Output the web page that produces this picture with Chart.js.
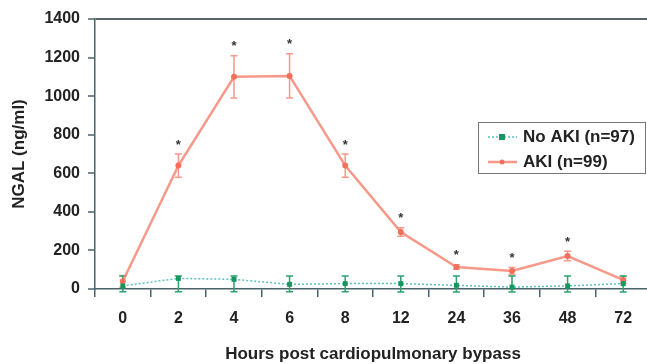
<!DOCTYPE html>
<html>
<head>
<meta charset="utf-8">
<script src="https://cdn.jsdelivr.net/npm/chart.js@4.4.1/dist/chart.umd.min.js"></script>
<style>
  html, body { margin: 0; padding: 0; background: #fff; overflow: hidden; }
  #ngalChart { display: block; }
</style>
</head>
<body>
<!-- plot runs a few px past the right edge, as in the cropped original -->
<canvas id="ngalChart" width="655" height="364"></canvas>
<script>
// hours after CPB (category labels)
const hours = ['0', '2', '4', '6', '8', '12', '24', '36', '48', '72'];

// AKI group: mean and error (+/-)
const akiMean = [40, 640, 1100, 1105, 640, 295, 114, 93, 171, 47];
const akiErr = [30, 60, 110, 115, 60, 22, 12, 18, 25, 18];

// no AKI group: mean, error bar low / high ends
const noAkiMean = [16, 55, 50, 24, 28, 28, 19, 10, 16, 28];
const noAkiLow = [-14, -14, -14, -14, -14, -16, -16, -16, -16, -16];
const noAkiHigh = [67, 67, 67, 67, 67, 67, 67, 67, 67, 67];

// significance markers
const starFlags = [0, 1, 1, 1, 1, 1, 1, 1, 1, 0];

const yTicks = [0, 200, 400, 600, 800, 1000, 1200, 1400];

const FONT = "'Liberation Sans', Arial, sans-serif";
const AXIS_COLOR = '#4a636b';
const AKI_COLOR = 'rgba(246,134,116,0.85)';
const AKI_POINT = '#f3705c';
const NOAKI_LINE = '#55c4bd';
const NOAKI_POINT = '#16975f';

const errorBars = {
    id: 'errorBars',
    beforeDatasetsDraw(chart) {
        const ctx = chart.ctx;
        const x = chart.scales.x;
        const y = chart.scales.y;
        ctx.save();
        // AKI bars
        ctx.strokeStyle = AKI_COLOR;
        ctx.lineWidth = 1.5;
        akiMean.forEach((v, i) => {
            const px = x.getPixelForValue(i);
            const top = y.getPixelForValue(v + akiErr[i]);
            const bot = y.getPixelForValue(v - akiErr[i]);
            ctx.beginPath();
            ctx.moveTo(px, top); ctx.lineTo(px, bot);
            ctx.moveTo(px - 3.5, top); ctx.lineTo(px + 3.5, top);
            ctx.moveTo(px - 3.5, bot); ctx.lineTo(px + 3.5, bot);
            ctx.stroke();
        });
        // no AKI bars
        ctx.strokeStyle = '#2aa36f';
        noAkiMean.forEach((v, i) => {
            const px = x.getPixelForValue(i);
            const top = y.getPixelForValue(noAkiHigh[i]);
            const bot = y.getPixelForValue(noAkiLow[i]);
            ctx.beginPath();
            ctx.moveTo(px, top); ctx.lineTo(px, bot);
            ctx.moveTo(px - 3.5, top); ctx.lineTo(px + 3.5, top);
            ctx.moveTo(px - 3.5, bot); ctx.lineTo(px + 3.5, bot);
            ctx.stroke();
        });
        ctx.restore();
    },
    afterDatasetsDraw(chart) {
        const ctx = chart.ctx;
        const x = chart.scales.x;
        const y = chart.scales.y;
        ctx.save();
        ctx.fillStyle = '#333';
        ctx.font = 'bold 13px ' + FONT;
        ctx.textAlign = 'center';
        ctx.textBaseline = 'middle';
        starFlags.forEach((f, i) => {
            if (!f) return;
            const px = x.getPixelForValue(i);
            const top = y.getPixelForValue(akiMean[i] + akiErr[i]);
            ctx.fillText('*', px, top - 9);
        });
        ctx.restore();
    },
    afterDraw(chart) {
        // legend box inside the plot
        const ctx = chart.ctx;
        const ds = chart.data.datasets;
        ctx.save();
        ctx.strokeStyle = '#777';
        ctx.lineWidth = 1;
        ctx.strokeRect(478.5, 122.5, 167, 51);
        ctx.font = 'bold 17px ' + FONT;
        ctx.fillStyle = '#222';
        ctx.textBaseline = 'middle';
        ctx.textAlign = 'left';

        // row 1: no AKI
        ctx.strokeStyle = NOAKI_LINE;
        ctx.lineWidth = 1.5;
        ctx.setLineDash([2, 2]);
        ctx.beginPath(); ctx.moveTo(488, 137); ctx.lineTo(517, 137); ctx.stroke();
        ctx.setLineDash([]);
        ctx.fillStyle = NOAKI_POINT;
        ctx.fillRect(499, 134, 6, 6);
        ctx.fillStyle = '#222';
        ctx.fillText(ds[0].label, 523, 137);

        // row 2: AKI
        ctx.strokeStyle = AKI_COLOR;
        ctx.lineWidth = 2.5;
        ctx.beginPath(); ctx.moveTo(488, 162); ctx.lineTo(517, 162); ctx.stroke();
        ctx.fillStyle = AKI_POINT;
        ctx.beginPath(); ctx.arc(502, 162, 2.5, 0, Math.PI * 2); ctx.fill();
        ctx.fillStyle = '#222';
        ctx.fillText(ds[1].label, 523, 162);
        ctx.restore();
    }
};

const ctx = document.getElementById('ngalChart').getContext('2d');
const myChart = new Chart(ctx, {
    type: 'line',
    data: {
        labels: hours,
        datasets: [{
            label: 'No AKI (n=97)',
            data: noAkiMean,
            borderColor: NOAKI_LINE,
            borderWidth: 1.5,
            borderDash: [2, 2],
            pointStyle: 'rect',
            pointRadius: 3.5,
            pointBackgroundColor: NOAKI_POINT,
            pointBorderColor: NOAKI_POINT,
            pointBorderWidth: 0,
            fill: false,
            clip: false
        }, {
            label: 'AKI (n=99)',
            data: akiMean,
            borderColor: AKI_COLOR,
            borderWidth: 2.5,
            pointRadius: 3,
            pointBackgroundColor: AKI_POINT,
            pointBorderColor: AKI_POINT,
            pointBorderWidth: 0,
            fill: false,
            clip: false
        }]
    },
    options: {
        responsive: false,
        devicePixelRatio: 1,
        animation: false,
        layout: { padding: { top: 19, right: 0, left: 0, bottom: 0 } },
        elements: { line: { tension: 0 } },
        plugins: {
            legend: { display: false },
            tooltip: { enabled: false }
        },
        scales: {
            x: {
                type: 'category',
                offset: true,
                afterFit: function (scale) {
                    scale.height = 75;
                    scale.paddingLeft = 0;
                    scale.paddingRight = 0;
                },
                grid: {
                    offset: true,
                    drawOnChartArea: false,
                    tickLength: 8,
                    color: AXIS_COLOR,
                    lineWidth: 1.5
                },
                border: { display: true, color: AXIS_COLOR, width: 1.5 },
                ticks: {
                    color: '#222',
                    padding: 12,
                    font: { size: 16, weight: 'bold', family: FONT }
                },
                title: {
                    display: true,
                    text: 'Hours post cardiopulmonary bypass',
                    color: '#222',
                    padding: { top: 0, bottom: -1 },
                    font: { size: 17, weight: 'bold', family: FONT }
                }
            },
            y: {
                min: 0,
                max: 1400,
                afterFit: function (scale) { scale.width = 95; },
                afterBuildTicks: function (scale) {
                    scale.ticks = yTicks.map(v => ({ value: v }));
                },
                grid: {
                    drawOnChartArea: true,
                    tickLength: 7,
                    lineWidth: 2,
                    tickWidth: 1.5,
                    color: c => (c.tick && c.tick.value === 1400) ? '#5a6468' : 'transparent',
                    tickColor: AXIS_COLOR
                },
                border: { display: true, color: AXIS_COLOR, width: 1.5 },
                ticks: {
                    color: '#222',
                    padding: 8,
                    font: { size: 16, weight: 'bold', family: FONT },
                    callback: function (value) { return String(value); }
                },
                title: {
                    display: true,
                    text: 'NGAL (ng/ml)',
                    color: '#222',
                    padding: { top: 9, bottom: 0 },
                    font: { size: 17, weight: 'bold', family: FONT }
                }
            }
        }
    },
    plugins: [errorBars]
});
</script>
</body>
</html>
